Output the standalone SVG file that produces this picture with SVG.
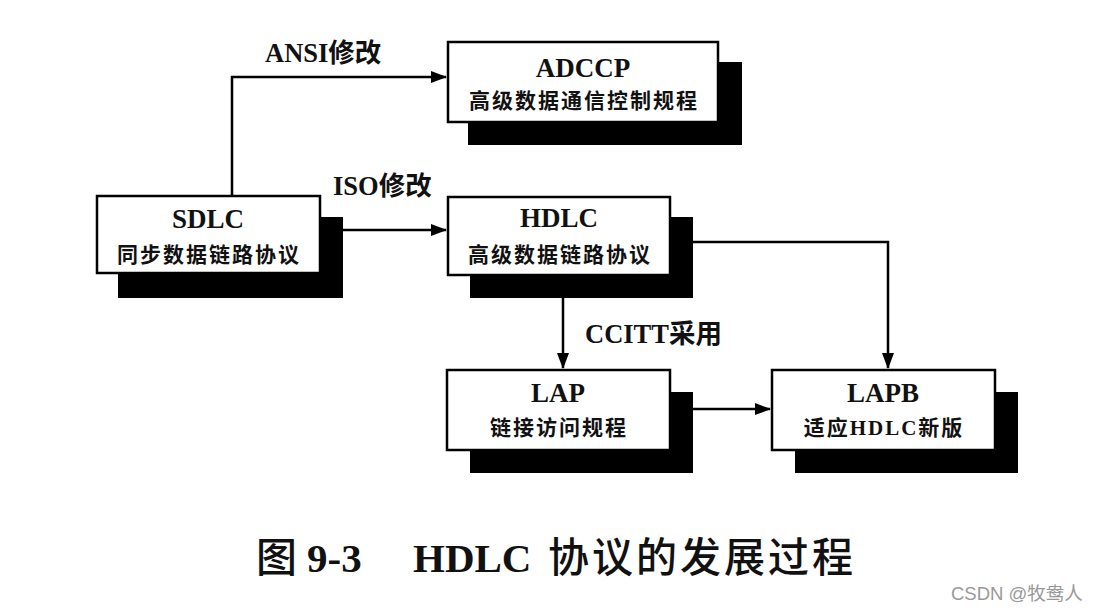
<svg xmlns="http://www.w3.org/2000/svg" width="1097" height="614" viewBox="0 0 1097 614">
<defs>
<marker id="arr" markerWidth="16" markerHeight="12" refX="15" refY="6" orient="auto" markerUnits="userSpaceOnUse">
<path d="M0,0 L16,6 L0,12 Z" fill="#000"/>
</marker>
<style>
.shadow{fill:#000}
.box{fill:#fff;stroke:#000;stroke-width:2.5}
.title{font-family:"Liberation Serif","Noto Sans CJK SC",serif;font-size:27px;font-weight:bold;text-anchor:middle;fill:#111}
.sub{font-family:"Liberation Serif","Noto Sans CJK SC",serif;font-size:21px;font-weight:bold;text-anchor:middle;letter-spacing:2px;fill:#111}
.lbl{font-family:"Liberation Serif","Noto Sans CJK SC",serif;font-size:26.5px;font-weight:bold;fill:#111}
.conn{fill:none;stroke:#000;stroke-width:2.5}
.cap{font-family:"Liberation Serif","Noto Sans CJK SC",serif;font-size:41px;font-weight:bold;fill:#111}
.cjk{font-weight:500}
.wm{font-family:"Liberation Sans","Noto Sans CJK SC",sans-serif;font-size:18.5px;fill:#999}
</style>
</defs>
<rect width="1097" height="614" fill="#fff"/>
<g id="connectors">
<path class="conn" d="M232,196 V77 H446" marker-end="url(#arr)"/>
<path class="conn" d="M343,230 H446" marker-end="url(#arr)"/>
<path class="conn" d="M563,298 V368" marker-end="url(#arr)"/>
<path class="conn" d="M693,242 H888 V368" marker-end="url(#arr)"/>
<path class="conn" d="M693,409 H770" marker-end="url(#arr)"/>
<text class="lbl" x="265" y="62">ANSI修改</text>
<text class="lbl" x="333" y="195">ISO修改</text>
<text class="lbl" x="585" y="343">CCITT采用</text>
</g>
<g id="sdlc">
<rect class="shadow" x="118" y="217" width="225" height="81"/>
<rect class="box" x="97" y="196" width="223" height="77"/>
<text class="title" x="208" y="228">SDLC</text>
<text class="sub" x="209" y="262">同步数据链路协议</text>
</g>
<g id="adccp">
<rect class="shadow" x="468" y="62" width="274" height="83"/>
<rect class="box" x="448" y="42" width="270" height="80"/>
<text class="title" x="583" y="77">ADCCP</text>
<text class="sub" x="584" y="108">高级数据通信控制规程</text>
</g>
<g id="hdlc">
<rect class="shadow" x="470" y="217" width="223" height="81"/>
<rect class="box" x="448" y="197" width="222" height="78"/>
<text class="title" x="559" y="227">HDLC</text>
<text class="sub" x="560" y="262">高级数据链路协议</text>
</g>
<g id="lap">
<rect class="shadow" x="470" y="392" width="223" height="81"/>
<rect class="box" x="447" y="370" width="223" height="80"/>
<text class="title" x="558" y="402">LAP</text>
<text class="sub" x="559" y="435">链接访问规程</text>
</g>
<g id="lapb">
<rect class="shadow" x="795" y="392" width="223" height="81"/>
<rect class="box" x="772" y="370" width="223" height="80"/>
<text class="title" x="883" y="402">LAPB</text>
<text class="sub" x="884" y="435">适应HDLC新版</text>
</g>
<g id="caption">
<text class="cap" y="572"><tspan class="cjk" x="256">图</tspan><tspan x="307">9-3</tspan><tspan x="413">HDLC</tspan><tspan class="cjk" x="548" letter-spacing="3">协议的发展过程</tspan></text>
<text class="wm" x="951" y="600">CSDN @牧鸯人</text>
</g>
</svg>
